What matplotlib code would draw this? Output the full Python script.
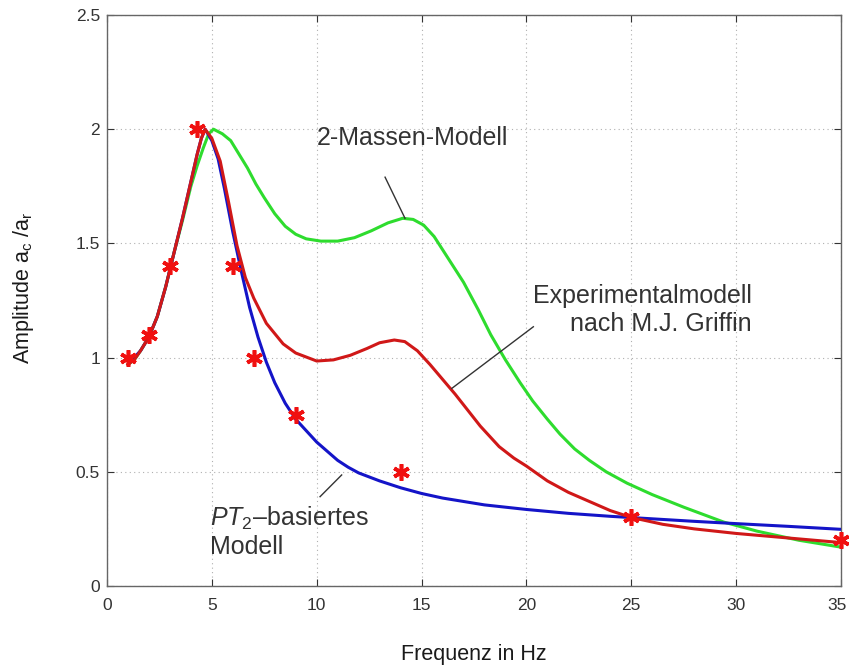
import matplotlib
matplotlib.use("Agg")
import matplotlib.pyplot as plt
import matplotlib.transforms as mtransforms

plt.rcParams["font.family"] = ["Liberation Sans", "DejaVu Sans"]
plt.rcParams["mathtext.fontset"] = "custom"
plt.rcParams["mathtext.rm"] = "Liberation Sans"
plt.rcParams["mathtext.it"] = "Liberation Sans:italic"

# PT2-based model (blue)
pt2_f = [1.0, 1.3, 1.6, 2.0, 2.4, 2.8, 3.2, 3.6, 4.0, 4.3, 4.5, 4.68, 5.0, 5.3,
         5.6, 6.0, 6.4, 6.8, 7.2, 7.6, 8.0, 8.5, 9.0, 9.5, 10.0, 11.0, 11.5,
         12.0, 13.0, 14.0, 15.0, 16.0, 17.0, 18.0, 20.0, 22.0, 24.0, 26.0, 28.0,
         30.0, 32.5, 35.0]
pt2_a = [1.0, 1.0, 1.03, 1.09, 1.18, 1.31, 1.46, 1.61, 1.77, 1.89, 1.96, 2.0,
         1.95, 1.87, 1.74, 1.55, 1.38, 1.22, 1.09, 0.98, 0.89, 0.80, 0.73, 0.68,
         0.63, 0.55, 0.52, 0.495, 0.46, 0.43, 0.405, 0.385, 0.37, 0.355, 0.335,
         0.318, 0.305, 0.294, 0.283, 0.273, 0.261, 0.248]

# experimental model after M.J. Griffin (red)
exp_f = [1.0, 1.3, 1.6, 2.0, 2.4, 2.8, 3.2, 3.6, 4.0, 4.3, 4.5, 4.68, 5.0, 5.4,
         5.8, 6.2, 6.6, 7.0, 7.6, 8.4, 9.0, 10.0, 10.8, 11.6, 12.4, 13.0, 13.7,
         14.2, 14.8, 15.4, 16.0, 16.6, 17.2, 17.8, 18.7, 19.4, 20.0, 21.0, 22.0,
         23.0, 24.0, 25.0, 26.5, 28.0, 30.0, 32.5, 35.0]
exp_a = [0.97, 0.99, 1.03, 1.09, 1.18, 1.31, 1.46, 1.61, 1.77, 1.89, 1.96, 2.0,
         1.96, 1.86, 1.68, 1.49, 1.35, 1.26, 1.15, 1.06, 1.02, 0.985, 0.99,
         1.01, 1.04, 1.065, 1.077, 1.07, 1.03, 0.97, 0.905, 0.84, 0.77, 0.70,
         0.61, 0.56, 0.525, 0.46, 0.41, 0.37, 0.33, 0.30, 0.27, 0.25, 0.23,
         0.21, 0.19]

# two-mass model (green)
mass_f = [1.0, 1.3, 1.6, 2.0, 2.4, 2.8, 3.2, 3.6, 4.0, 4.3, 4.6, 4.85, 5.08,
          5.5, 5.9, 6.3, 6.7, 7.1, 7.5, 8.0, 8.5, 9.0, 9.5, 10.2, 11.0, 11.8,
          12.6, 13.4, 14.1, 14.6, 15.1, 15.6, 16.3, 17.0, 17.7, 18.3, 19.0, 19.7,
          20.3, 21.0, 21.6, 22.3, 23.0, 23.8, 24.8, 26.0, 27.5, 29.4, 31.0, 33.0,
          35.0]
mass_a = [0.97, 0.99, 1.03, 1.09, 1.18, 1.31, 1.46, 1.60, 1.75, 1.84, 1.92,
          1.98, 2.0, 1.98, 1.95, 1.89, 1.83, 1.76, 1.70, 1.63, 1.575, 1.54,
          1.52, 1.51, 1.51, 1.525, 1.555, 1.59, 1.61, 1.605, 1.58, 1.53, 1.43,
          1.33, 1.21, 1.10, 0.99, 0.89, 0.81, 0.73, 0.665, 0.60, 0.55, 0.50,
          0.45, 0.40, 0.345, 0.28, 0.24, 0.20, 0.17]

# measured points (red asterisks)
meas_f = [1, 2, 3, 4.3, 6, 7, 9, 14, 25, 35]
meas_a = [1.0, 1.1, 1.4, 2.0, 1.4, 1.0, 0.75, 0.5, 0.3, 0.2]

x_ticks = [0, 5, 10, 15, 20, 25, 30, 35]
y_ticks = [0, 0.5, 1, 1.5, 2, 2.5]
y_tick_labels = ["0", "0.5", "1", "1.5", "2", "2.5"]

fig = plt.figure(figsize=(8.49, 6.68), dpi=100)
ax = fig.add_axes([0.126, 0.1228, 0.8646, 0.8547])

ax.plot(mass_f, mass_a, color="#2edc2e", lw=2.2, zorder=3,
        solid_joinstyle="round")
ax.plot(pt2_f, pt2_a, color="#1414c8", lw=2.2, zorder=4,
        solid_joinstyle="round")
ax.plot(exp_f, exp_a, color="#d01818", lw=2.2, zorder=5,
        solid_joinstyle="round")
ax.plot(meas_f, meas_a, linestyle="none", marker=(6, 2, 0), markersize=12,
        markeredgewidth=2.6, color="#f01010", zorder=6, clip_on=False)

ax.set_xlim(0, 35)
ax.set_ylim(0, 2.5)
ax.set_xticks(x_ticks)
ax.set_yticks(y_ticks)
ax.set_yticklabels(y_tick_labels)
ax.tick_params(direction="in", top=True, right=True, length=5, width=0.8,
               labelsize=12.5, colors="#333333")
ax.tick_params(axis="x", pad=9)
ax.tick_params(axis="y", pad=5)
for s in ax.spines.values():
    s.set_color("#666666")
    s.set_linewidth(1.0)
ax.grid(True, linestyle=(0, (1, 3)), color="#b0b0b0", linewidth=0.8)
ax.set_axisbelow(True)

# keep the last x tick label inside the figure
last = ax.get_xticklabels()[-1]
last.set_transform(last.get_transform() +
                   mtransforms.ScaledTranslation(-3 / 72, 0, fig.dpi_scale_trans))

ax.set_xlabel("Frequenz in Hz", fontsize=15.5, color="#1a1a1a")
ax.xaxis.set_label_coords(0.4993, -0.101)
ax.set_ylabel(r"Amplitude a$_\mathregular{c}$ /a$_\mathregular{r}$",
              fontsize=15.5, color="#1a1a1a")
ax.yaxis.set_label_coords(-0.097, 0.522)

txt = dict(fontsize=18, color="#333333")
ax.text(10.0, 1.96, "2-Massen-Modell", ha="left", va="center", **txt)
ax.plot([13.26, 14.21], [1.79, 1.61], color="#333333", lw=1.0, zorder=7)

ax.text(30.75, 1.21, "Experimentalmodell\nnach M.J. Griffin", ha="right",
        va="center", multialignment="right", linespacing=1.2, **txt)
ax.plot([20.33, 16.44], [1.135, 0.865], color="#333333", lw=1.0, zorder=7)

ax.text(4.91, 0.297, r"$\mathit{PT}_2$–basiertes", ha="left", va="center",
        **txt)
ax.text(4.91, 0.172, "Modell", ha="left", va="center", **txt)
ax.plot([10.16, 11.19], [0.391, 0.486], color="#333333", lw=1.0, zorder=7)

fig.savefig("out.png", dpi=100)
